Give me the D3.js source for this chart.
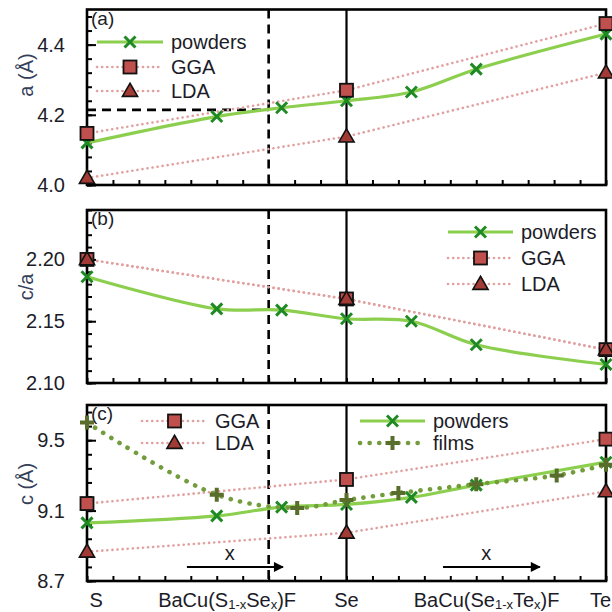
<!DOCTYPE html>
<html>
<head>
<meta charset="utf-8">
<script src="https://cdn.jsdelivr.net/npm/d3@7"></script>
<style>
  body { margin: 0; background: #fff; }
  text { font-family: "Liberation Sans", Arial, sans-serif; fill: #1c1c28; }
</style>
</head>
<body>
<svg width="612" height="612"></svg>
<script>
// composition axis: S = 0, Se = 1, Te = 2
const xPowders = [0, 0.5, 0.75, 1, 1.25, 1.5, 2];
const xCalc = [0, 1, 2];
const xFilms = [0, 0.5, 0.81, 1, 1.2, 1.5, 1.81, 2];

const aPowders = [4.12, 4.195, 4.22, 4.24, 4.265, 4.33, 4.43];
const aGGA = [4.147, 4.27, 4.46];
const aLDA = [4.02, 4.138, 4.32];

const caPowders = [2.186, 2.160, 2.159, 2.152, 2.150, 2.131, 2.115];
const caGGA = [2.200, 2.168, 2.127];
const caLDA = [2.200, 2.168, 2.127];

const cPowders = [9.03, 9.07, 9.12, 9.135, 9.175, 9.245, 9.375];
const cFilms = [9.6, 9.19, 9.115, 9.16, 9.2, 9.25, 9.3, 9.36];
const cGGA = [9.14, 9.277, 9.506];
const cLDA = [8.866, 8.974, 9.209];

const xTickLabels = ["S", "BaCu(S|1-x|Se|x|)F", "Se", "BaCu(Se|1-x|Te|x|)F", "Te"];
const xTickPos = [0.035, 0.54, 1, 1.54, 2];

const svg = d3.select("svg");
const left = 87, right = 606;
const x = d3.scaleLinear().domain([0, 2]).range([left, right]);

const green = "#8ccf4f", darkGreen = "#1f8a24", olive = "#5a6e2c", filmDot = "#739c3c";
const pink = "#e2a0a0", red = "#c0504d", darkRed = "#a23a35";
const smooth = d3.curveCatmullRom.alpha(0.5);

const panels = [
  {id: "a", top: 9.5, bottom: 185, domain: [4.0, 4.5], major: [4.0, 4.2, 4.4], minorStep: 0.04, fmt: d3.format(".1f"), title: "a (Å)", titleY: 75},
  {id: "b", top: 210, bottom: 383, domain: [2.10, 2.24], major: [2.10, 2.15, 2.20], minorStep: 0.01, fmt: d3.format(".2f"), title: "c/a", titleY: 287},
  {id: "c", top: 405, bottom: 581, domain: [8.7, 9.7], major: [8.7, 9.1, 9.5], minorStep: 0.08, fmt: d3.format(".1f"), title: "c (Å)", titleY: 484}
];

panels.forEach((p) => {
  p.y = d3.scaleLinear().domain(p.domain).range([p.bottom, p.top]);
  const g = svg.append("g");
  p.g = g;

  const minor = d3.range(p.domain[0], p.domain[1] + 1e-9, p.minorStep);
  g.append("g")
    .attr("transform", "translate(" + left + ",0)")
    .call(d3.axisLeft(p.y).tickValues(minor).tickSize(-5).tickFormat(""))
    .call((s) => s.select(".domain").remove())
    .selectAll("line").attr("stroke", "#000").attr("stroke-width", 2);

  g.append("g")
    .attr("transform", "translate(" + left + ",0)")
    .call(d3.axisLeft(p.y).tickValues(p.major).tickSize(-9).tickPadding(22).tickFormat(p.fmt))
    .call((s) => s.select(".domain").remove())
    .call((s) => s.selectAll("line").attr("stroke", "#000").attr("stroke-width", 2))
    .selectAll("text")
    .style("font-size", "20px")
    .attr("fill", "#1c1c28");

  g.append("g")
    .attr("transform", "translate(0," + p.bottom + ")")
    .call(d3.axisBottom(x).tickValues(d3.range(0, 2.001, 0.1)).tickSize(-5).tickFormat(""))
    .call((s) => s.select(".domain").remove())
    .selectAll("line").attr("stroke", "#000").attr("stroke-width", 2);

  // x = 0.7 dashed and Se solid separators
  g.append("line")
    .attr("x1", x(0.7)).attr("x2", x(0.7))
    .attr("y1", p.top).attr("y2", p.bottom)
    .attr("stroke", "#000").attr("stroke-width", 2.6).attr("stroke-dasharray", "9,6");
  g.append("line")
    .attr("x1", x(1)).attr("x2", x(1))
    .attr("y1", p.top).attr("y2", p.bottom)
    .attr("stroke", "#000").attr("stroke-width", 2.2);

  g.append("rect")
    .attr("x", left).attr("y", p.top)
    .attr("width", right - left).attr("height", p.bottom - p.top)
    .attr("fill", "none").attr("stroke", "#000").attr("stroke-width", 2.6);

  g.append("text")
    .attr("x", left + 4).attr("y", p.top + 15)
    .style("font-size", "19px")
    .text("(" + p.id + ")");

  svg.append("text")
    .attr("transform", "translate(" + 33 + "," + p.titleY + ") rotate(-90)")
    .attr("text-anchor", "middle")
    .style("font-size", "20px")
    .style("fill", "#34405a")
    .text(p.title);
});

const pa = panels[0], pb = panels[1], pc = panels[2];

// dashed guide at a = 4.214 in (a)
pa.g.append("line")
  .attr("x1", x(0)).attr("x2", x(0.7))
  .attr("y1", pa.y(4.214)).attr("y2", pa.y(4.214))
  .attr("stroke", "#000").attr("stroke-width", 2.6).attr("stroke-dasharray", "9,6");

function drawLine(g, xs, ys, y, style, curve) {
  const line = d3.line().x((d) => x(d[0])).y((d) => y(d[1])).curve(curve || d3.curveLinear);
  const path = g.append("path")
    .datum(xs.map((v, i) => [v, ys[i]]))
    .attr("d", line)
    .attr("fill", "none");
  applyStyle(path, style);
}

const styles = {
  powders: {stroke: green, width: 3.2},
  calc: {stroke: pink, width: 2.6, dash: "0.1,5", cap: "round"},
  films: {stroke: filmDot, width: 4.6, dash: "0.1,9.5", cap: "round"}
};

function applyStyle(sel, s) {
  sel.attr("stroke", s.stroke).attr("stroke-width", s.width);
  if (s.dash) sel.attr("stroke-dasharray", s.dash);
  if (s.cap) sel.attr("stroke-linecap", s.cap);
}

function marker(g, kind, cx, cy) {
  if (kind === "cross") {
    const s = 5.5;
    g.append("path")
      .attr("d", `M${cx - s},${cy - s}L${cx + s},${cy + s}M${cx - s},${cy + s}L${cx + s},${cy - s}`)
      .attr("stroke", darkGreen).attr("stroke-width", 3).attr("fill", "none");
  } else if (kind === "plus") {
    const s = 7;
    g.append("path")
      .attr("d", `M${cx - s},${cy}L${cx + s},${cy}M${cx},${cy - s}L${cx},${cy + s}`)
      .attr("stroke", olive).attr("stroke-width", 4).attr("fill", "none");
  } else if (kind === "square") {
    g.append("rect")
      .attr("x", cx - 6.5).attr("y", cy - 6.5).attr("width", 13).attr("height", 13)
      .attr("fill", red).attr("stroke", "#111").attr("stroke-width", 1.8);
  } else {
    g.append("path")
      .attr("d", d3.symbol(d3.symbolTriangle, 100)())
      .attr("transform", `translate(${cx},${cy + 1})`)
      .attr("fill", darkRed).attr("stroke", "#111").attr("stroke-width", 1.6);
  }
}

function series(g, y, xs, ys, style, kind, curve) {
  drawLine(g, xs, ys, y, style, curve);
  xs.forEach((v, i) => marker(g, kind, x(v), y(ys[i])));
}

function legendRow(g, x0, x1, yy, style, kind, label) {
  const l = g.append("line").attr("x1", x0).attr("x2", x1).attr("y1", yy).attr("y2", yy);
  applyStyle(l, style);
  marker(g, kind, (x0 + x1) / 2, yy);
  g.append("text").attr("x", x1 + 8).attr("y", yy + 7).style("font-size", "20px").text(label);
}

// (a)
drawLine(pa.g, xCalc, aGGA, pa.y, styles.calc);
drawLine(pa.g, xCalc, aLDA, pa.y, styles.calc);
series(pa.g, pa.y, xPowders, aPowders, styles.powders, "cross", smooth);
xCalc.forEach((v, i) => marker(pa.g, "square", x(v), pa.y(aGGA[i])));
xCalc.forEach((v, i) => marker(pa.g, "tri", x(v), pa.y(aLDA[i])));
legendRow(pa.g, 97, 163, 42, styles.powders, "cross", "powders");
legendRow(pa.g, 97, 163, 67, styles.calc, "square", "GGA");
legendRow(pa.g, 97, 163, 91, styles.calc, "tri", "LDA");

// (b)
drawLine(pb.g, xCalc, caGGA, pb.y, styles.calc);
drawLine(pb.g, xCalc, caLDA, pb.y, styles.calc);
series(pb.g, pb.y, xPowders, caPowders, styles.powders, "cross", smooth);
xCalc.forEach((v, i) => marker(pb.g, "square", x(v), pb.y(caGGA[i])));
xCalc.forEach((v, i) => marker(pb.g, "tri", x(v), pb.y(caLDA[i])));
legendRow(pb.g, 448, 513, 232, styles.powders, "cross", "powders");
legendRow(pb.g, 448, 513, 258, styles.calc, "square", "GGA");
legendRow(pb.g, 448, 513, 284, styles.calc, "tri", "LDA");

// (c)
drawLine(pc.g, xCalc, cGGA, pc.y, styles.calc);
drawLine(pc.g, xCalc, cLDA, pc.y, styles.calc);
series(pc.g, pc.y, xPowders, cPowders, styles.powders, "cross", smooth);
series(pc.g, pc.y, xFilms, cFilms, styles.films, "plus", smooth);
xCalc.forEach((v, i) => marker(pc.g, "square", x(v), pc.y(cGGA[i])));
xCalc.forEach((v, i) => marker(pc.g, "tri", x(v), pc.y(cLDA[i])));
legendRow(pc.g, 142, 207, 421, styles.calc, "square", "GGA");
legendRow(pc.g, 142, 207, 443, styles.calc, "tri", "LDA");
legendRow(pc.g, 360, 425, 421, styles.powders, "cross", "powders");
legendRow(pc.g, 360, 425, 443, styles.films, "plus", "films");

// composition arrows in (c)
svg.append("defs").append("marker")
  .attr("id", "head")
  .attr("viewBox", "0 0 10 10")
  .attr("refX", 9).attr("refY", 5)
  .attr("markerWidth", 7).attr("markerHeight", 5)
  .attr("markerUnits", "strokeWidth")
  .attr("orient", "auto")
  .append("path").attr("d", "M0,0L10,5L0,10Z").attr("fill", "#000");

[[0.385, 0.755], [1.372, 1.745]].forEach((r) => {
  pc.g.append("line")
    .attr("x1", x(r[0])).attr("x2", x(r[1]))
    .attr("y1", pc.y(8.78)).attr("y2", pc.y(8.78))
    .attr("stroke", "#000").attr("stroke-width", 2)
    .attr("marker-end", "url(#head)");
  pc.g.append("text")
    .attr("x", x((r[0] + r[1]) / 2 - 0.02)).attr("y", pc.y(8.78) - 7)
    .attr("text-anchor", "middle")
    .style("font-size", "20px")
    .text("x");
});

// composition labels under the bottom panel
xTickLabels.forEach((lab, i) => {
  const last = i === xTickLabels.length - 1;
  const t = svg.append("text")
    .attr("x", last ? 611 : x(xTickPos[i])).attr("y", 607)
    .attr("text-anchor", last ? "end" : "middle")
    .style("font-size", "20px");
  lab.split("|").forEach((part, j) => {
    if (!part) return;
    const sub = j % 2 === 1;
    t.append("tspan")
      .style("font-size", sub ? "13px" : "20px")
      .attr("dy", j === 0 ? 0 : (sub ? 2 : -2))
      .text(part);
  });
});
</script>
</body>
</html>
